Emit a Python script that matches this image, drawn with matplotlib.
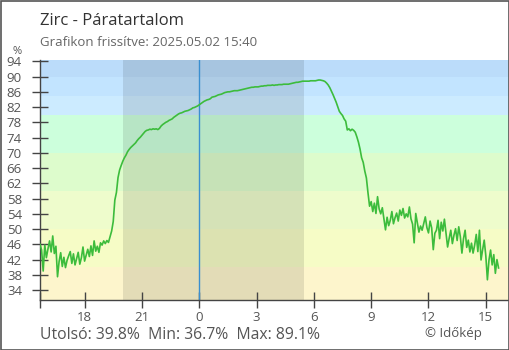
import matplotlib
matplotlib.use("Agg")
import matplotlib.pyplot as plt
import numpy as np
from matplotlib.patches import Rectangle

# ---------------------------------------------------------------------------
# Data: relative humidity (%), 5-minute steps from 2025.05.01 15:40
# ---------------------------------------------------------------------------
START_HOUR = 15 + 40 / 60
STEP_MIN = 5

humidity = [
    46.0, 44.5, 39.0, 45.8, 42.5, 44.8, 46.9, 44.0, 48.2, 43.6, 45.5, 37.5,
    41.5, 43.8, 40.2, 42.6, 39.9, 41.8, 43.0, 44.1, 41.0, 43.5, 40.6, 42.2,
    43.9, 40.8, 42.5, 45.3, 41.6, 43.2, 44.7, 42.8, 45.6, 43.1, 46.9, 44.2,
    45.5, 43.9, 46.4, 45.8, 46.9, 46.2, 47.0, 46.5, 48.0, 49.5, 52.0, 57.6,
    59.6, 63.5, 65.5, 66.7, 67.8, 68.7, 69.4, 70.3, 70.9, 71.4, 71.8, 72.2,
    72.6, 73.2, 73.7, 74.1, 74.6, 75.1, 75.6, 75.9, 76.0, 76.2, 76.1, 76.3,
    76.2, 76.3, 76.1, 76.4, 77.0, 77.4, 77.7, 78.0, 78.2, 78.5, 78.7, 78.9,
    79.3, 79.6, 79.9, 80.2, 80.4, 80.5, 80.7, 80.9, 81.0, 81.1, 81.3, 81.5,
    81.8, 81.9, 82.1, 82.3, 82.6, 82.9, 83.2, 83.5, 83.7, 83.9, 84.0, 84.2,
    84.6, 84.7, 84.8, 85.0, 85.2, 85.3, 85.4, 85.6, 85.8, 85.9, 86.0, 86.0,
    86.1, 86.2, 86.3, 86.3, 86.3, 86.4, 86.5, 86.6, 86.7, 86.8, 86.9, 87.0,
    87.1, 87.2, 87.2, 87.3, 87.3, 87.3, 87.4, 87.5, 87.5, 87.6, 87.6, 87.7,
    87.7, 87.7, 87.8, 87.7, 87.8, 87.8, 87.9, 87.9, 87.9, 88.0, 88.0, 88.0,
    88.0, 88.1, 88.2, 88.3, 88.4, 88.5, 88.5, 88.6, 88.7, 88.8, 88.8, 88.8,
    88.8, 88.8, 88.9, 88.9, 88.9, 88.9, 89.0, 89.1, 89.1, 89.0, 88.9, 88.7,
    88.3, 87.8, 87.1, 86.2, 85.3, 84.3, 83.3, 82.1, 80.9, 80.3, 79.8, 78.9,
    78.3, 76.0, 76.3, 75.8, 76.2, 75.9, 75.4, 74.2, 72.8, 71.0, 68.7, 67.5,
    65.2, 63.4, 59.5, 56.0, 57.2, 54.6, 56.8, 54.1, 58.5, 55.3, 54.0, 55.6,
    52.6, 49.8, 53.1, 50.9, 52.3, 54.6, 51.4, 53.0, 54.2, 52.1, 55.0, 53.6,
    55.4, 52.9, 54.0, 53.2, 55.8, 52.7, 51.3, 46.4, 54.1, 51.6, 49.2, 50.8,
    49.7, 51.5, 53.2, 50.4, 49.0, 52.1, 50.3, 44.6, 48.9, 49.7, 52.3, 47.5,
    51.8, 49.5, 52.6, 48.9, 45.3, 47.6, 49.7, 46.2, 48.4, 50.1, 47.0, 50.6,
    48.0, 43.7, 47.5, 49.7, 45.2, 47.1, 44.0, 46.3, 43.7, 45.8, 48.6, 44.1,
    49.7, 41.9, 44.6, 47.1, 43.0, 36.7, 41.9, 44.5, 40.6, 43.3, 38.4, 42.0,
    39.8,
]

# Colour bands (lower, upper, colour)
band_edges = [30, 40, 50, 60, 70, 80, 85, 90, 100]
band_colors = ["#fdf5cc", "#f6fcc6", "#eefccc", "#ddfccc",
               "#ccffdc", "#ccebff", "#c2e4ff", "#bbdcfa"]

night_start = 20.0          # 20:00
night_end = 24 + 5.48       # 05:29 next day
midnight = 24.0

x_ticks = [18, 21, 24, 27, 30, 33, 36, 39]
x_tick_labels = ["18", "21", "0", "3", "6", "9", "12", "15"]
y_ticks = list(range(34, 95, 4))

title = "Zirc - Páratartalom"
subtitle = "Grafikon frissítve: 2025.05.02 15:40"
footer = "Utolsó: 39.8%  Min: 36.7%  Max: 89.1%"
credit = "© Időkép"

# ---------------------------------------------------------------------------
plt.rcParams["font.family"] = ["Open Sans", "DejaVu Sans"]

W, H = 510, 350
fig = plt.figure(figsize=(W / 100, H / 100), dpi=100)
fig.patch.set_facecolor("white")

ax = fig.add_axes([40 / W, 50 / H, 469.5 / W, 240 / H])

hours = START_HOUR + np.arange(len(humidity)) * STEP_MIN / 60

for lo, hi, col in zip(band_edges[:-1], band_edges[1:], band_colors):
    ax.axhspan(lo, hi, color=col, lw=0, zorder=0)

ax.axvspan(night_start, night_end, color="black", alpha=0.1, lw=0, zorder=1)
ax.axvline(midnight, color="#3a8fd0", lw=1, zorder=2)

ax.plot(hours, humidity, color="#3cbc3c", lw=1.2, zorder=3)

ax.set_xlim(START_HOUR, 40.24)
ax.set_ylim(31.4, 94.35)

ax.set_xticks(x_ticks)
ax.set_xticklabels(x_tick_labels)
ax.set_xticks([START_HOUR], minor=True)
ax.set_yticks(y_ticks)

for side in ("top", "right"):
    ax.spines[side].set_visible(False)
for side in ("left", "bottom"):
    ax.spines[side].set_color("#444444")
    ax.spines[side].set_linewidth(1)

ax.tick_params(axis="both", which="both", direction="inout", length=12,
               width=1, color="#444444", labelcolor="#555555")
ax.tick_params(axis="y", labelsize=9.5, pad=7)
ax.tick_params(axis="x", labelsize=9.5, pad=2)

fig.text(17 / W, 1 - 51 / H, "%", fontsize=8, color="#555555",
         ha="center", va="center")

fig.text(40 / W, 1 - 25 / H, title, fontsize=12, color="#333333",
         ha="left", va="baseline")
fig.text(40 / W, 1 - 46 / H, subtitle, fontsize=9.5, color="#666666",
         ha="left", va="baseline")
fig.text(40 / W, 1 - 339 / H, footer, fontsize=11.3, color="#555555",
         ha="left", va="baseline")
fig.text(482 / W, 1 - 337 / H, credit, fontsize=9.5, color="#555555",
         ha="right", va="baseline")

# outer frame
fig.patches.append(Rectangle((0.5 / W, 0.5 / H), 1 - 1.5 / W, 1 - 1.5 / H,
                             transform=fig.transFigure, fill=False,
                             edgecolor="#555555", lw=1.2))

fig.savefig("out.png", dpi=100)
